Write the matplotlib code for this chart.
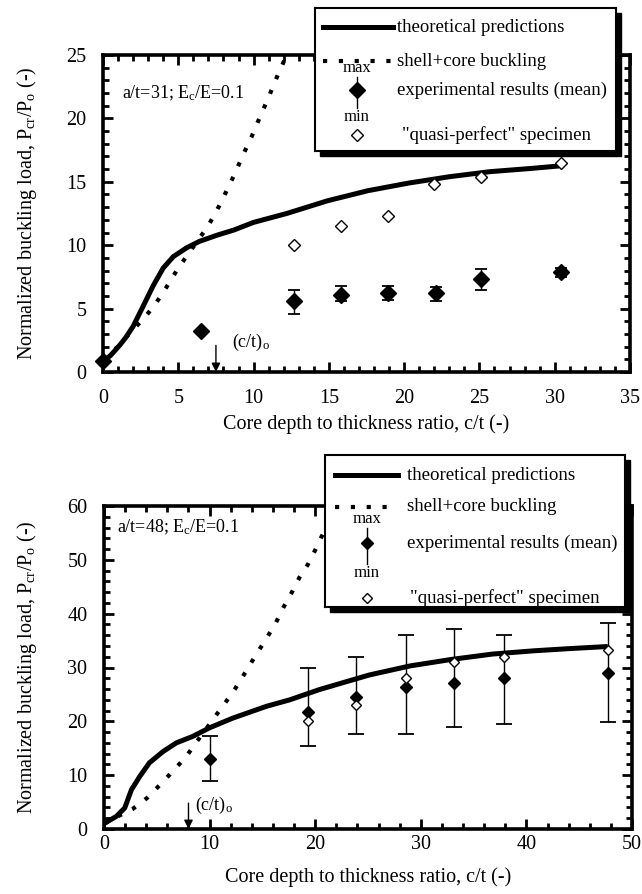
import matplotlib
matplotlib.use("Agg")
import matplotlib.pyplot as plt
from matplotlib.patches import Rectangle
from matplotlib.lines import Line2D
from matplotlib.ticker import MultipleLocator

plt.rcParams['font.family'] = ['Liberation Serif', 'DejaVu Serif']
plt.rcParams['mathtext.fontset'] = 'custom'
plt.rcParams['mathtext.rm'] = 'Liberation Serif'
plt.rcParams['mathtext.it'] = 'Liberation Serif:italic'

# ---------------- data: panel 1 (a/t=31) ----------------
theo1_x = [0, 0.5, 1.1, 1.5, 2.0, 2.67, 3.33, 4.0, 4.67, 5.56, 6.4, 7.6, 8.7, 10.0, 12.2, 14.9, 17.6, 20.3, 23.0, 25.7, 28.4, 30.3]
theo1_y = [0.85, 1.3, 2.1, 2.7, 3.6, 5.2, 6.8, 8.2, 9.1, 9.8, 10.3, 10.8, 11.2, 11.8, 12.5, 13.5, 14.3, 14.9, 15.4, 15.8, 16.05, 16.25]
shell1_x = [0, 1.0, 1.77, 2.65, 3.3, 3.94, 4.42, 4.98, 5.53, 6.97, 7.4, 7.85, 8.25, 8.7, 9.07, 9.45, 9.85, 10.2, 10.9, 11.6, 12.2]
shell1_y = [1.0, 2.0, 3.07, 4.14, 5.08, 6.15, 7.09, 8.16, 9.09, 11.5, 12.4, 13.4, 14.4, 15.5, 16.5, 17.5, 18.5, 19.5, 21.4, 23.4, 25.0]
exp1_x = [0, 6.5, 12.7, 15.8, 18.9, 22.1, 25.1, 30.4]
exp1_y = [0.9, 3.2, 5.6, 6.1, 6.2, 6.2, 7.3, 7.9]
exp1_max = [0.9, 3.2, 6.5, 6.8, 6.8, 6.7, 8.1, 8.2]
exp1_min = [0.9, 3.2, 4.6, 5.6, 5.7, 5.6, 6.5, 7.5]
qp1_x = [12.7, 15.8, 18.9, 22.0, 25.1, 30.4]
qp1_y = [10.05, 11.5, 12.3, 14.8, 15.4, 16.5]
ct1 = 7.5

# ---------------- data: panel 2 (a/t=48) ----------------
theo2_x = [0, 1.17, 1.96, 2.6, 3.4, 4.3, 5.6, 6.85, 8.4, 10.0, 12.2, 15.4, 17.6, 20.4, 25.1, 29.0, 32.9, 36.8, 40.7, 44.0, 47.7]
theo2_y = [1.0, 2.35, 3.9, 7.3, 9.8, 12.3, 14.4, 16.0, 17.2, 18.8, 20.6, 22.8, 24.0, 25.9, 28.6, 30.3, 31.5, 32.5, 33.1, 33.5, 33.9]
shell2_x = [0, 1.3, 2.7, 4.1, 5.4, 6.6, 7.8, 8.7, 10.6, 11.5, 12.4, 13.2, 14.0, 14.8, 15.6, 16.3, 17.0, 17.8, 18.5, 19.3, 20.0, 20.6, 21.3]
shell2_y = [1.0, 2.35, 3.7, 5.8, 8.4, 10.9, 13.5, 16.0, 21.1, 23.5, 26.0, 28.5, 31.1, 33.6, 36.1, 38.4, 41.2, 44.0, 46.7, 49.1, 51.8, 54.3, 57.0]
exp2_x = [10.0, 19.3, 23.9, 28.6, 33.1, 37.9, 47.7]
exp2_y = [13.0, 21.7, 24.6, 26.4, 27.2, 28.1, 28.9]
exp2_max = [17.2, 29.9, 32.0, 36.1, 37.1, 36.1, 38.2]
exp2_min = [8.85, 15.4, 17.6, 17.6, 19.0, 19.5, 19.9]
qp2_x = [19.3, 23.9, 28.6, 33.1, 37.9, 47.7]
qp2_y = [20.0, 23.1, 28.1, 31.1, 32.0, 33.3]
ct2 = 8.0

W, H = 642, 894
fig = plt.figure(figsize=(W / 100, H / 100), dpi=100)

FS = 14.5
XLABEL = 'Core depth to thickness ratio, c/t (-)'
YLABEL = r'Normalized buckling load, P$_{\rm cr}$/P$_{\rm o}$ (-)'
DOTS = (0, (1, 2.8))


def px_rect(x0, y0, x1, y1):
    return [x0 / W, 1 - y1 / H, (x1 - x0) / W, (y1 - y0) / H]


def make_panel(box, tx, ty, sx, sy, ex, ey, emax, emin, qx, qy, ct, xlim, ylim,
               xmaj, xmin_, ymaj, ymin_, note, note_xy, ct_arrow, ct_text,
               ms_exp, ms_qp, capsize, xpad, xlab_y):
    ax = fig.add_axes(px_rect(*box))
    ax.plot(tx, ty, color='black', lw=3.6, solid_capstyle='butt', zorder=3)
    ax.plot(sx, sy, color='black', lw=3.0, linestyle=DOTS, dash_capstyle='butt', zorder=3)
    yerr = [[m - lo for m, lo in zip(ey, emin)], [hi - m for m, hi in zip(ey, emax)]]
    ax.errorbar(ex, ey, yerr=yerr, fmt='D', color='black', ms=ms_exp, elinewidth=1.0,
                capsize=capsize, capthick=1.3, zorder=4, clip_on=False)
    ax.plot(qx, qy, 'D', mfc='white', mec='black', mew=1.0, ms=ms_qp, zorder=5, clip_on=False)
    ax.set_xlim(*xlim)
    ax.set_ylim(*ylim)
    ax.xaxis.set_major_locator(MultipleLocator(xmaj))
    ax.xaxis.set_minor_locator(MultipleLocator(xmin_))
    ax.yaxis.set_major_locator(MultipleLocator(ymaj))
    ax.yaxis.set_minor_locator(MultipleLocator(ymin_))
    ax.tick_params(which='both', direction='in', top=True, right=True, labelsize=FS, width=2.0)
    ax.tick_params(which='major', length=7)
    ax.tick_params(which='minor', length=4)
    ax.tick_params(axis='x', which='major', pad=xpad)
    ax.tick_params(axis='y', which='major', pad=12)
    for s in ax.spines.values():
        s.set_linewidth(2.6)
    ax.set_xlabel(XLABEL, fontsize=FS)
    ax.set_ylabel(YLABEL, fontsize=FS)
    ax.xaxis.set_label_coords(0.5, xlab_y)
    ax.xaxis.label.set_va('center')
    ax.yaxis.set_label_coords(-0.145, 0.5)
    ax.yaxis.label.set_va('center')
    ax.text(note_xy[0], note_xy[1], note, fontsize=13, ha='left', va='center')
    ax.annotate('', xy=(ct, ylim[0]), xytext=(ct, ct_arrow),
                arrowprops=dict(arrowstyle='-|>', color='black', lw=1.0, mutation_scale=13,
                                shrinkA=0, shrinkB=0))
    ax.text(ct_text[0], ct_text[1], r'(c/t)$_{\rm o}$', fontsize=13, ha='left', va='center')
    return ax


def make_legend(box, rows, handle_x0, handle_x1, text_x, dia_x, qtext_x, fs, ms_exp, ms_qp):
    x0, y0, x1, y1 = box
    sh = 5
    shadow = Rectangle(((x0 + sh) / W, 1 - (y1 + sh) / H), (x1 - x0) / W, (y1 - y0) / H,
                       transform=fig.transFigure, facecolor='black', edgecolor='black', zorder=8)
    fig.add_artist(shadow)
    lax = fig.add_axes(px_rect(x0, y0, x1, y1), zorder=9)
    lax.set_xlim(0, 1)
    lax.set_ylim(0, 1)
    lax.set_xticks([])
    lax.set_yticks([])
    for s in lax.spines.values():
        s.set_linewidth(1.5)
    r_theo, r_shell, r_max, r_exp, r_min, r_qp = rows
    lax.add_line(Line2D([handle_x0, handle_x1], [r_theo, r_theo], color='black', lw=3.6))
    lax.text(text_x, r_theo, 'theoretical predictions', fontsize=fs, va='center')
    lax.add_line(Line2D([handle_x0, handle_x1], [r_shell, r_shell], color='black', lw=3.0,
                        linestyle=DOTS, dash_capstyle='butt'))
    lax.text(text_x, r_shell, 'shell+core buckling', fontsize=fs, va='center')
    lax.add_line(Line2D([dia_x, dia_x], [r_max - 0.06, r_min + 0.06], color='black', lw=1.0))
    lax.add_line(Line2D([dia_x], [r_exp], marker='D', color='black', ms=ms_exp))
    lax.text(dia_x, r_max, 'max', fontsize=fs - 1.5, ha='center', va='center')
    lax.text(dia_x, r_min, 'min', fontsize=fs - 1.5, ha='center', va='center')
    lax.text(text_x, r_exp, 'experimental results (mean)', fontsize=fs, va='center')
    lax.add_line(Line2D([dia_x], [r_qp], marker='D', mfc='white', mec='black', mew=1.0, ms=ms_qp))
    lax.text(qtext_x, r_qp, '"quasi-perfect" specimen', fontsize=fs, va='center')


make_panel((103, 55, 630, 372), theo1_x, theo1_y, shell1_x, shell1_y,
           exp1_x, exp1_y, exp1_max, exp1_min, qp1_x, qp1_y, ct1,
           (0, 35), (0, 25), 5, 1, 5, 1,
           r'a/t=31; E$_{\rm c}$/E=0.1', (1.24, 22.0), 2.1, (8.6, 2.3),
           8.3, 6.3, 4.5, 12, -0.164)
make_legend((315, 8, 616, 151), [0.867, 0.629, 0.58, 0.427, 0.238, 0.112],
            0.027, 0.259, 0.272, 0.139, 0.289, 13.5, 8.0, 6.3)

make_panel((104, 506, 632, 829), theo2_x, theo2_y, shell2_x, shell2_y,
           exp2_x, exp2_y, exp2_max, exp2_min, qp2_x, qp2_y, ct2,
           (0, 50), (0, 60), 10, 2, 10, 2,
           r'a/t=48; E$_{\rm c}$/E=0.1', (1.2, 56.0), 4.8, (8.6, 4.4),
           6.2, 5.6, 5.5, 4.5, -0.149)
make_legend((325, 455, 625, 607), [0.868, 0.658, 0.579, 0.421, 0.224, 0.059],
            0.033, 0.243, 0.273, 0.14, 0.283, 13.6, 6.0, 5.5)

fig.savefig('out.png', dpi=100)
